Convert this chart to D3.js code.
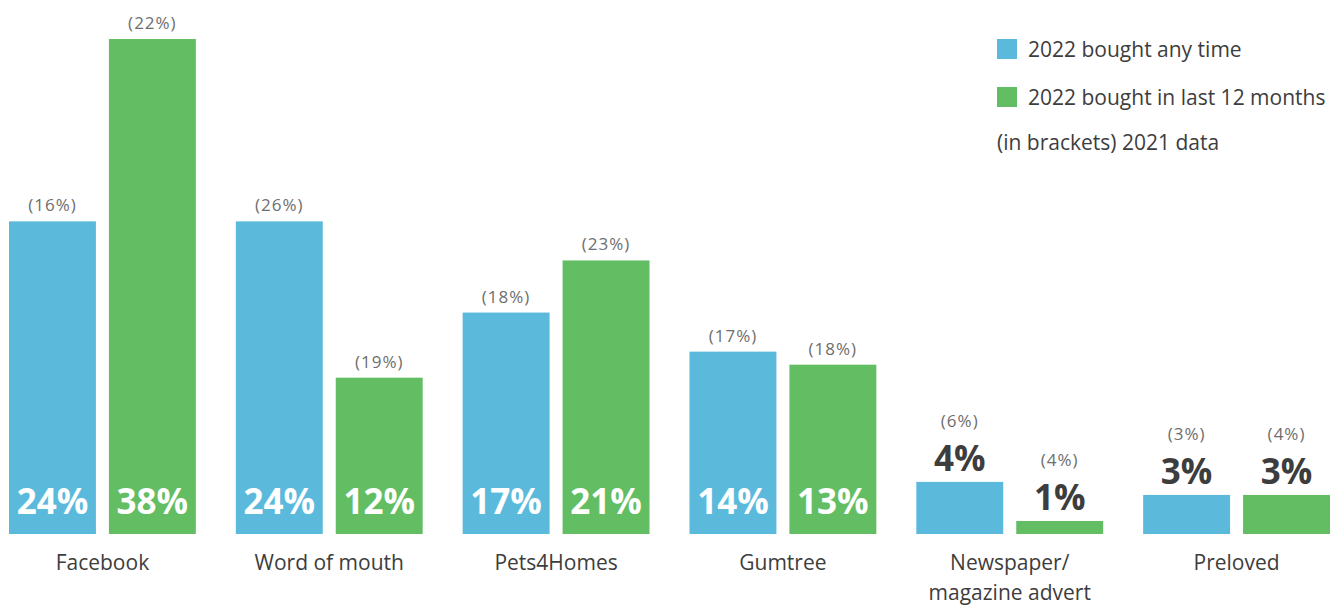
<!DOCTYPE html>
<html lang="en">
<head>
<meta charset="UTF-8">
<title>Where pets were bought</title>
<script src="https://cdn.jsdelivr.net/npm/d3@7"></script>
<style>
  body { margin: 0; background: #fff; }
  svg { display: block; }
</style>
</head>
<body>
<script>
// data
var categories = ["Facebook", "Word of mouth", "Pets4Homes", "Gumtree", "Newspaper/\nmagazine advert", "Preloved"];
var anyTime = [24, 24, 17, 14, 4, 3];          // 2022 bought any time
var last12 = [38, 12, 21, 13, 1, 3];           // 2022 bought in last 12 months
var anyTime2021 = [16, 26, 18, 17, 6, 3];      // brackets
var last12_2021 = [22, 19, 23, 18, 4, 4];      // brackets
var seriesNames = ["2022 bought any time", "2022 bought in last 12 months"];
var colors = ["#5bbadc", "#63be63"];

var w = 1333, h = 605;
var baseline = 534;

var svg = d3.select("body").append("svg")
    .attr("width", w)
    .attr("height", h);

var x0 = d3.scaleBand()
    .domain(categories)
    .range([9, 1330])
    .paddingInner(40 / 227)
    .paddingOuter(0);

var x1 = d3.scaleBand()
    .domain([0, 1])
    .range([0, x0.bandwidth()])
    .paddingInner(0.13)
    .paddingOuter(0);

var y = d3.scaleLinear()
    .domain([0, 38])
    .range([baseline, 39]);

var rows = [];
categories.forEach(function(c, i) {
    rows.push({cat: c, s: 0, v: anyTime[i], old: anyTime2021[i]});
    rows.push({cat: c, s: 1, v: last12[i], old: last12_2021[i]});
});

var g = svg.selectAll("g.bar")
    .data(rows)
    .enter()
    .append("g")
    .attr("class", "bar")
    .attr("transform", function(d) { return "translate(" + (x0(d.cat) + x1(d.s)) + ",0)"; });

g.append("rect")
    .attr("x", 0)
    .attr("y", function(d) { return y(d.v); })
    .attr("width", x1.bandwidth())
    .attr("height", function(d) { return baseline - y(d.v); })
    .attr("fill", function(d) { return colors[d.s]; });

// big labels: inside the bar when it is tall enough, above it otherwise
function inside(d) { return baseline - y(d.v) > 60; }

g.append("text")
    .attr("x", x1.bandwidth() / 2)
    .attr("y", function(d) { return inside(d) ? baseline - 20 : y(d.v) - 11; })
    .attr("text-anchor", "middle")
    .attr("font-family", "'Open Sans', sans-serif")
    .attr("font-weight", "bold")
    .attr("font-size", "35px")
    .attr("fill", function(d) { return inside(d) ? "#fff" : "#3d3d3d"; })
    .text(function(d) { return d.v + "%"; });

g.append("text")
    .attr("x", x1.bandwidth() / 2)
    .attr("y", function(d) { return inside(d) ? y(d.v) - 10 : y(d.v) - 55; })
    .attr("text-anchor", "middle")
    .attr("font-family", "'Open Sans', sans-serif")
    .attr("font-size", "17px")
    .attr("letter-spacing", "1px")
    .attr("fill", "#6e6e6e")
    .text(function(d) { return "(" + d.old + "%)"; });

// category labels
var cl = svg.selectAll("text.cat")
    .data(categories)
    .enter()
    .append("text")
    .attr("class", "cat")
    .attr("x", function(d) { return x0(d) + x0.bandwidth() / 2; })
    .attr("y", 570)
    .attr("text-anchor", "middle")
    .attr("font-family", "'Open Sans', sans-serif")
    .attr("font-size", "21px")
    .attr("fill", "#3d3d3d");

cl.selectAll("tspan")
    .data(function(d) { return d.split("\n"); })
    .enter()
    .append("tspan")
    .attr("x", function() { var p = d3.select(this.parentNode).datum(); return x0(p) + x0.bandwidth() / 2; })
    .attr("dy", function(d, i) { return i === 0 ? 0 : 30; })
    .text(function(d) { return d; });

// legend
var lg = svg.append("g").attr("transform", "translate(997,39)");
seriesNames.forEach(function(n, i) {
    lg.append("rect")
        .attr("x", 0)
        .attr("y", i * 48)
        .attr("width", 20)
        .attr("height", 20)
        .attr("fill", colors[i]);
    lg.append("text")
        .attr("x", 31)
        .attr("y", i * 48 + 18)
        .attr("font-family", "'Open Sans', sans-serif")
        .attr("font-size", "21px")
        .attr("fill", "#3d3d3d")
        .text(n);
});
lg.append("text")
    .attr("x", 0)
    .attr("y", 111)
    .attr("font-family", "'Open Sans', sans-serif")
    .attr("font-size", "21px")
    .attr("fill", "#3d3d3d")
    .text("(in brackets) 2021 data");
</script>
</body>
</html>
